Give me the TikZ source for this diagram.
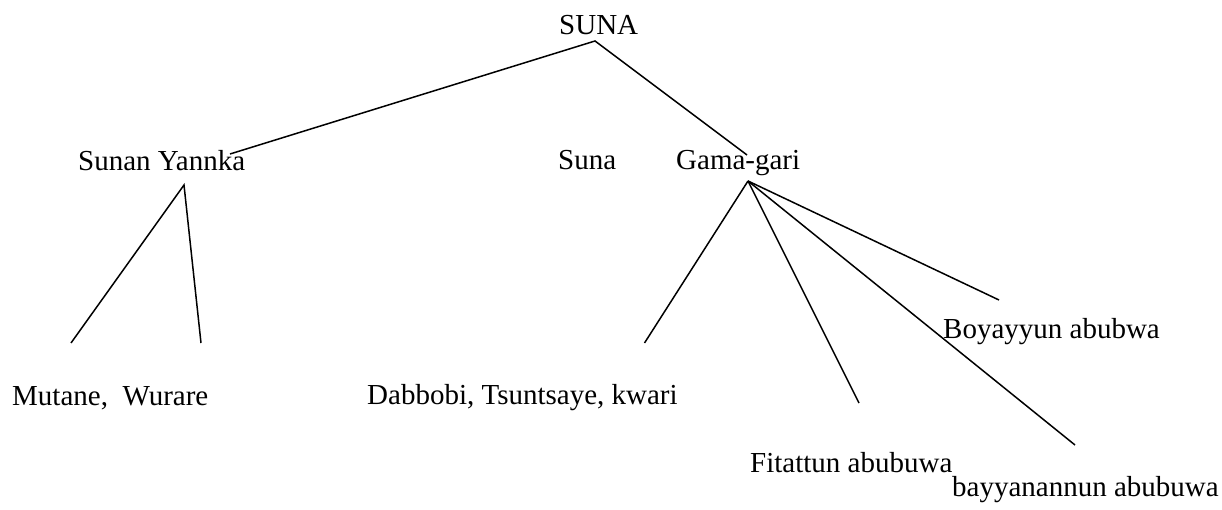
\documentclass[tikz,border=0pt]{standalone}
\usepackage{fontspec}
\setmainfont{Liberation Serif}
\begin{document}
\begin{tikzpicture}[x=1pt,y=-1pt,
  lbl/.style={anchor=base west,inner sep=0pt,font=\fontsize{29}{35}\selectfont},
  conn/.style={line width=1.5pt,black}]
\useasboundingbox (0,0) rectangle (1222,510);
% labels
\node[lbl] (suna) at (559,35) {SUNA};
\node[lbl] (yannka) at (78,171) {Sunan Yannka};
\node[lbl] (suna2) at (558,170) {Suna};
\node[lbl] (gama) at (676,170) {Gama-gari};
\node[lbl] (mutane) at (12,405) {Mutane,\ \ Wurare};
\node[lbl] (dabbobi) at (367,404) {Dabbobi, Tsuntsaye, kwari};
\node[lbl] (boyayyun) at (943,338) {Boyayyun abubwa};
\node[lbl] (fitattun) at (750,472) {Fitattun abubuwa};
\node[lbl] (bayyan) at (952,496) {bayyanannun abubuwa};
% connector points
\coordinate (sunaApex) at (595,41);
\coordinate (yannkaTop) at (230,154);
\coordinate (gamaTop) at (747,155);
\coordinate (yannkaApex) at (184,185);
\coordinate (mutaneL) at (71,343);
\coordinate (mutaneR) at (201,343);
\coordinate (gamaApex) at (748,181);
\coordinate (dabbobiEnd) at (644.5,343);
\coordinate (fitattunEnd) at (859,403);
\coordinate (bayyanEnd) at (1075,445);
\coordinate (boyayyunEnd) at (999,300);
% connectors
\draw[conn] (yannkaTop) -- (sunaApex) -- (gamaTop);
\draw[conn] (mutaneL) -- (yannkaApex) -- (mutaneR);
\draw[conn] (gamaApex) -- (dabbobiEnd);
\draw[conn] (gamaApex) -- (fitattunEnd);
\draw[conn] (gamaApex) -- (bayyanEnd);
\draw[conn] (gamaApex) -- (boyayyunEnd);
\end{tikzpicture}
\end{document}
